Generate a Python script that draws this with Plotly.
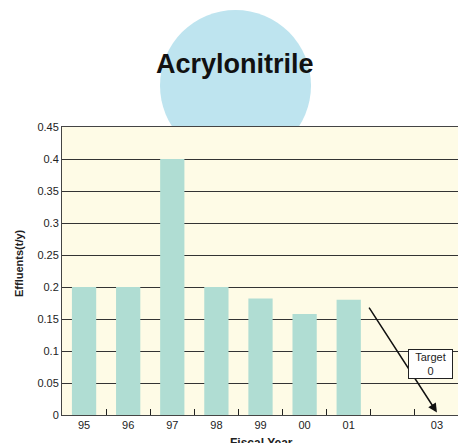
import plotly.graph_objects as go

categories = ["95", "96", "97", "98", "99", "00", "01", "02", "03"]
tick_labels = ["95", "96", "97", "98", "99", "00", "01", "", "03"]
bar_years = ["95", "96", "97", "98", "99", "00", "01"]
effluents = [0.2, 0.2, 0.4, 0.2, 0.182, 0.158, 0.18]
target_year_index = 8
target_value = 0
arrow_start = (6.44, 0.170)
target_label = "Target<br>0"
target_pos = (7.85, 0.080)

FONT = "Liberation Sans, Arial, sans-serif"

# page body has an 8px default margin; compensate so plot sits where the reference has it
L, R, T, B = 54, 7, 119, 28
W, H = 458, 435
PW = W - L - R  # 397
PH = H - T - B  # 288


def px_x(px):  # window pixel -> paper fraction
    return (px - 62) / PW


def px_y(py):
    return (415 - py) / PH


fig = go.Figure()
fig.add_trace(go.Bar(
    x=bar_years, y=effluents,
    marker=dict(color="#B0DDD3", line=dict(width=0)),
    width=0.55,
    hoverinfo="x+y",
))

fig.update_layout(
    width=W, height=H,
    margin=dict(l=L, r=R, t=T, b=B),
    paper_bgcolor="white",
    plot_bgcolor="rgba(0,0,0,0)",
    showlegend=False,
    font=dict(family=FONT, size=11, color="#222"),
    xaxis=dict(
        type="category", automargin=False,
        categoryorder="array", categoryarray=categories,
        tickmode="array", tickvals=categories, ticktext=tick_labels,
        range=[-0.5, len(categories) - 0.5],
        tickson="boundaries", ticks="inside", ticklen=6, tickcolor="#222", tickwidth=1,
        showline=True, linecolor="#444", linewidth=1, mirror=True,
        showgrid=False,
        tickfont=dict(size=11, color="#222"),
    ),
    yaxis=dict(
        range=[0, 0.45], dtick=0.05, tick0=0, automargin=False,
        showgrid=True, gridcolor="#333333", gridwidth=1.4,
        showline=True, linecolor="#444", linewidth=1, mirror=True,
        zeroline=False, ticks="", ticklen=0,
        tickfont=dict(size=11, color="#222"),
    ),
    shapes=[
        dict(type="circle", xref="paper", yref="paper", layer="below",
             x0=px_x(160), x1=px_x(311), y0=px_y(161), y1=px_y(10),
             fillcolor="#BEE4EF", line=dict(width=0)),
        dict(type="rect", xref="x domain", yref="y domain", layer="below",
             x0=0, x1=1, y0=0, y1=1,
             fillcolor="#FEFBE6", line=dict(width=0)),
    ],
    annotations=[
        dict(xref="paper", yref="paper", x=px_x(235), y=px_y(64),
             text="<b>Acrylonitrile</b>", showarrow=False,
             font=dict(size=27, color="#111", family=FONT), xanchor="center", yanchor="middle"),
        dict(xref="paper", yref="paper", x=px_x(19), y=px_y(263),
             text="<b>Effluents(t/y)</b>", showarrow=False, textangle=-90,
             font=dict(size=11, color="#222"), xanchor="center", yanchor="middle"),
        dict(xref="paper", yref="paper", x=px_x(261), y=px_y(434),
             text="<b>Fiscal Year</b>", showarrow=False,
             font=dict(size=12, color="#222"), xanchor="center", yanchor="top"),
        dict(x=target_year_index, y=target_value + 0.004, xref="x", yref="y",
             ax=arrow_start[0], ay=arrow_start[1], axref="x", ayref="y",
             showarrow=True, arrowhead=2, arrowsize=1.2, arrowwidth=1.5, arrowcolor="#111",
             text=""),
        dict(x=target_pos[0], y=target_pos[1], xref="x", yref="y",
             text=target_label, showarrow=False, width=41, height=26,
             bgcolor="white", bordercolor="#222", borderwidth=1, borderpad=1,
             font=dict(size=11, color="#222"), align="center"),
    ],
)

fig.write_html("out.html")
